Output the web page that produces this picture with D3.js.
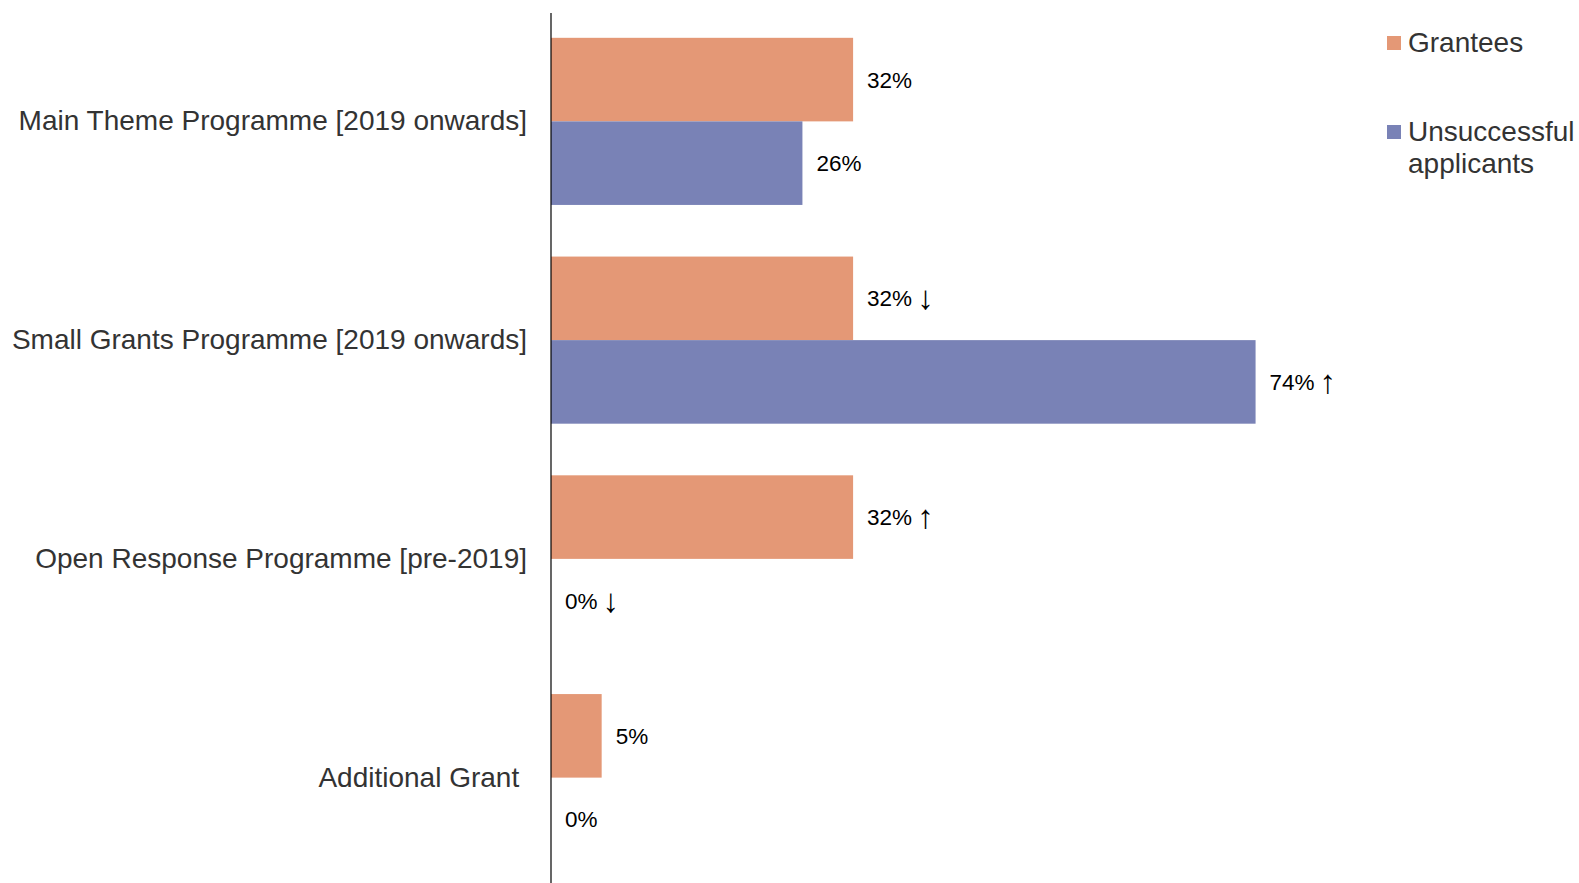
<!DOCTYPE html>
<html>
<head>
<meta charset="utf-8">
<script src="https://cdn.jsdelivr.net/npm/d3@7"></script>
<style>
  html, body { margin: 0; padding: 0; background: #fff; }
  svg { display: block; font-family: "Liberation Sans", Arial, sans-serif; }
</style>
</head>
<body>
<svg id="chart" width="1579" height="883"></svg>
<script>
const categories = [
  "Main Theme Programme [2019 onwards]",
  "Small Grants Programme [2019 onwards]",
  "Open Response Programme [pre-2019]",
  "Additional Grant "
];
const seriesNames = ["Grantees", "Unsuccessful applicants"];
const grantees = [31.6, 31.6, 31.6, 5.3];
const unsuccessful = [26.3, 73.7, 0, 0];
const granteeLabels = ["32%", "32%", "32%", "5%"];
const granteeArrows = ["", "\u2193", "\u2191", ""];
const unsuccessfulLabels = ["26%", "74%", "0%", "0%"];
const unsuccessfulArrows = ["", "\u2191", "\u2193", ""];
const colors = ["#E49876", "#7982B6"];

const svg = d3.select("#chart");
const axisX = 551;
const x = d3.scaleLinear().domain([0, 100]).range([axisX, axisX + 956]);
const y = d3.scaleBand().domain(categories).range([12, 887]).paddingInner(0.236).paddingOuter(0.118);
const sub = d3.scaleBand().domain(seriesNames).range([0, y.bandwidth()]);

const rows = categories.map((c, i) => ({
  cat: c,
  vals: [
    { s: seriesNames[0], v: grantees[i], label: granteeLabels[i], arrow: granteeArrows[i], color: colors[0] },
    { s: seriesNames[1], v: unsuccessful[i], label: unsuccessfulLabels[i], arrow: unsuccessfulArrows[i], color: colors[1] }
  ]
}));

const g = svg.selectAll("g.cat").data(rows).join("g")
  .attr("class", "cat")
  .attr("transform", d => `translate(0,${y(d.cat)})`);

g.selectAll("rect").data(d => d.vals).join("rect")
  .attr("x", x(0))
  .attr("y", d => sub(d.s))
  .attr("width", d => x(d.v) - x(0))
  .attr("height", sub.bandwidth())
  .attr("fill", d => d.color);

const vt = g.selectAll("text.val").data(d => d.vals).join("text")
  .attr("class", "val")
  .attr("x", d => x(d.v) + 14)
  .attr("y", d => sub(d.s) + sub.bandwidth() / 2 + 8)
  .attr("font-size", "22.5px")
  .attr("fill", "#000");
vt.append("tspan").text(d => d.label);
vt.filter(d => d.arrow).append("tspan")
  .attr("font-size", "33px")
  .attr("dx", "5px")
  .attr("dy", "3px")
  .text(d => d.arrow);

// category axis
const yAxis = d3.axisLeft(y).tickSize(0).tickPadding(24);
const ax = svg.append("g").attr("transform", `translate(${axisX},0)`).call(yAxis);
ax.select(".domain").attr("stroke", "#000").attr("stroke-width", 1.2).attr("d", `M0,13V883`);
ax.selectAll(".tick text")
  .attr("font-size", "28px")
  .attr("font-family", "'Liberation Sans', Arial, sans-serif")
  .attr("fill", "#333")
  .attr("dy", "0.32em")
  .style("white-space", "pre");

// legend
const legend = svg.append("g");
const legendItems = [
  { name: ["Grantees"], color: colors[0], y: 43 },
  { name: ["Unsuccessful", "applicants"], color: colors[1], y: 132 }
];
legendItems.forEach(it => {
  legend.append("rect").attr("x", 1387).attr("y", it.y - 7).attr("width", 14).attr("height", 14).attr("fill", it.color);
  const t = legend.append("text").attr("x", 1408).attr("y", it.y)
    .attr("font-size", "28px").attr("fill", "#333");
  it.name.forEach((line, i) => t.append("tspan").attr("x", 1408).attr("dy", i === 0 ? "0.32em" : "32px").text(line));
});
</script>
</body>
</html>
